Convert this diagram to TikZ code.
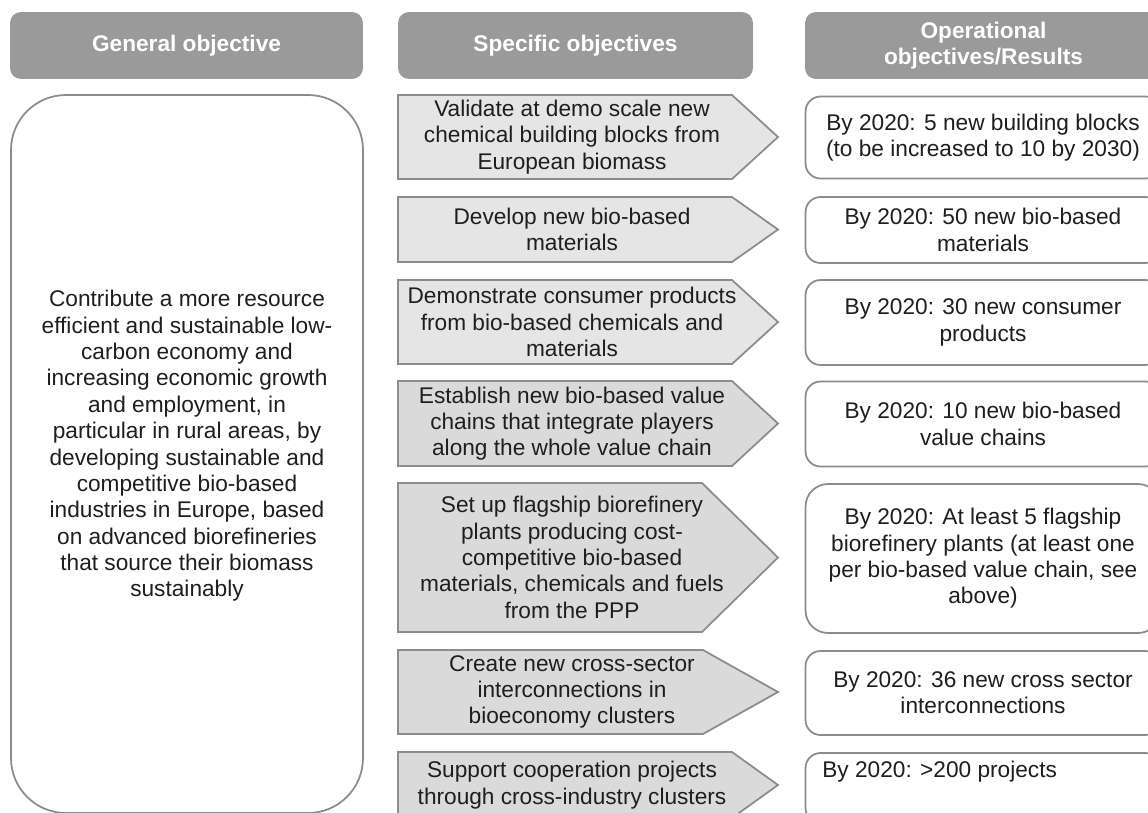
\documentclass[tikz,border=0pt]{standalone}
\usepackage{fontspec}
\setmainfont{Liberation Sans}
\usepackage{tikz}
\usetikzlibrary{positioning}
\definecolor{headGray}{HTML}{9A9A9A}
\definecolor{edgeGray}{HTML}{8C8C8C}
\definecolor{specFill}{HTML}{E5E5E5}
\definecolor{specFillDk}{HTML}{DADADA}
\definecolor{inkGray}{HTML}{1E1E1E}
\newcommand{\boxfont}{\fontsize{12.9}{15}\selectfont}

\begin{document}
\begin{tikzpicture}[x=0.02cm, y=-0.02cm,
  every node/.style={inner sep=0pt, align=center, text=inkGray, font=\boxfont},
  header/.style={fill=headGray, rounded corners=0.22cm, minimum height=1.34cm, text=white, font=\boxfont\bfseries},
  spec/.style={draw=edgeGray, line width=1pt, fill=specFill, line join=miter},
  result/.style={draw=edgeGray, line width=1pt, fill=white, rounded corners=0.3cm, minimum width=7.1cm}]
  \clip (0,0) rectangle (1148,812);

  % column heads
  \node[header, minimum width=7.06cm] (genhead) at (186.5,45.5) {General objective};
  \node[header, minimum width=7.1cm] (spechead) at (575.5,45.5) {Specific objectives};
  \node[header, minimum width=7.14cm] (opshead) at (983.5,45.5) {Operational\\objectives/Results};

  % general objective
  \draw[draw=edgeGray, line width=1pt, rounded corners=1.1cm] (11,95) rectangle (363,813);
  \node (goal) at (187,446) {Contribute a more resource\\efficient and sustainable low-\\carbon economy and\\increasing economic growth\\and employment, in\\particular in rural areas, by\\developing sustainable and\\competitive bio-based\\industries in Europe, based\\on advanced biorefineries\\that source their biomass\\sustainably};

  % specific objectives
  \filldraw[spec] (398,95) -- (732,95) -- (778,137) -- (732,179) -- (398,179) -- cycle;
  \node (spec1) at (572,137) {Validate at demo scale new\\chemical building blocks from\\European biomass};
  \filldraw[spec] (398,197) -- (732,197) -- (778,229.5) -- (732,262) -- (398,262) -- cycle;
  \node (spec2) at (572,229.5) {Develop new bio-based\\materials};
  \filldraw[spec] (398,280) -- (732,280) -- (778,322) -- (732,364) -- (398,364) -- cycle;
  \node (spec3) at (572,322) {Demonstrate consumer products\\from bio-based chemicals and\\materials};
  \filldraw[spec, fill=specFillDk] (398,381) -- (732,381) -- (778,423.5) -- (732,466) -- (398,466) -- cycle;
  \node (spec4) at (572,423.5) {Establish new bio-based value\\chains that integrate players\\along the whole value chain};
  \filldraw[spec, fill=specFillDk] (398,483) -- (702,483) -- (778,557.5) -- (702,632) -- (398,632) -- cycle;
  \node (spec5) at (572,557.5) {Set up flagship biorefinery\\plants producing cost-\\competitive bio-based\\materials, chemicals and fuels\\from the PPP};
  \filldraw[spec, fill=specFillDk] (398,650) -- (703,650) -- (778,692) -- (703,734) -- (398,734) -- cycle;
  \node (spec6) at (572,692) {Create new cross-sector\\interconnections in\\bioeconomy clusters};
  \filldraw[spec, fill=specFillDk] (398,752) -- (732,752) -- (778,785) -- (732,818) -- (398,818) -- cycle;
  \node (spec7) at (572,785) {Support cooperation projects\\through cross-industry clusters};

  % operational objectives / results
  \node[result, minimum height=1.64cm] (res1) at (983,137.5) {By 2020: 5 new building blocks\\(to be increased to 10 by 2030)};
  \node[result, minimum height=1.32cm] (res2) at (983,230) {By 2020: 50 new bio-based\\materials};
  \node[result, minimum height=1.7cm] (res3) at (983,322.5) {By 2020: 30 new consumer\\products};
  \node[result, minimum height=1.7cm] (res4) at (983,424) {By 2020: 10 new bio-based\\value chains};
  \node[result, minimum height=2.98cm, rounded corners=0.45cm] (res5) at (983,558.5) {By 2020: At least 5 flagship\\biorefinery plants (at least one\\per bio-based value chain, see\\above)};
  \node[result, minimum height=1.68cm] (res6) at (983,693) {By 2020: 36 new cross sector\\interconnections};
  \node[result, minimum height=1.4cm] (res7) at (983,788) {};
  \node[anchor=west] (res7text) at (822,772) {By 2020: >200 projects};
\end{tikzpicture}
\end{document}
